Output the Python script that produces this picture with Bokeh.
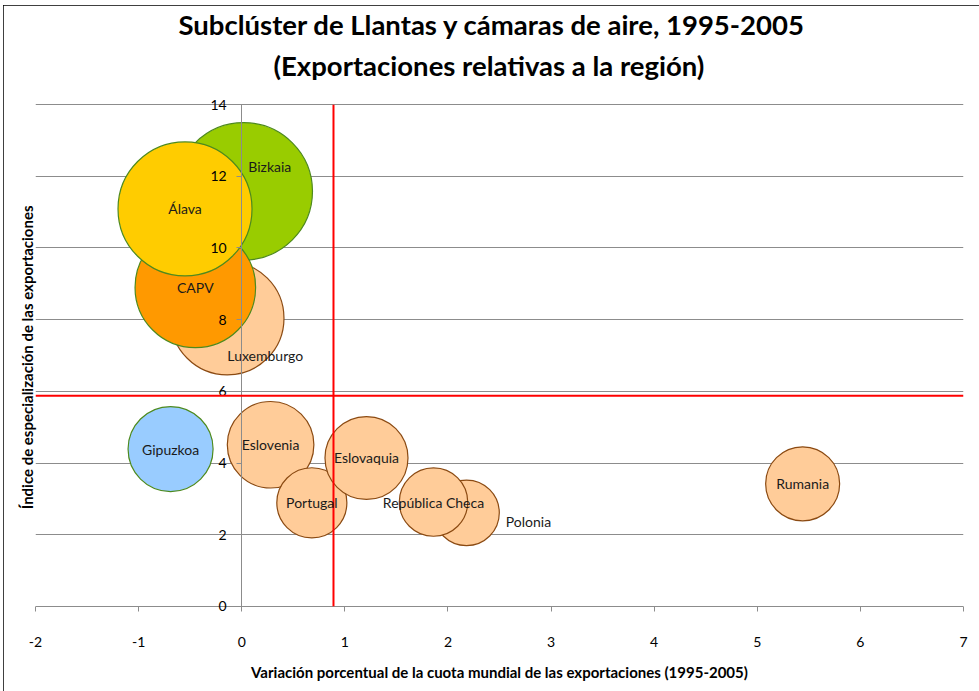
from bokeh.plotting import figure
from bokeh.models import ColumnDataSource, Span, Title, FixedTicker, PrintfTickFormatter
from bokeh.core.properties import value
from bokeh.embed import file_html
from bokeh.resources import INLINE

# ---- data ----
regiones = ["Luxemburgo", "Bizkaia", "CAPV", "Álava", "Gipuzkoa", "Eslovenia",
            "Portugal", "Eslovaquia", "Polonia", "República Checa", "Rumania"]
variacion_cuota = [-0.14, 0.02, -0.45, -0.55, -0.69, 0.28, 0.68, 1.21, 2.18, 1.86, 5.44]
indice_especializacion = [8.04, 11.58, 8.90, 11.09, 4.39, 4.51, 2.89, 4.14, 2.61, 2.91, 3.42]
volumen_burbuja = [68.1, 100.0, 77.0, 95.1, 38.3, 39.7, 26.0, 36.5, 22.8, 24.8, 29.0]
umbral_x = 0.89
umbral_y = 5.88
x_ticks = [-2, -1, 0, 1, 2, 3, 4, 5, 6, 7]
y_ticks = [0, 2, 4, 6, 8, 10, 12, 14]
titulo_1 = "Subclúster de Llantas y cámaras de aire, 1995-2005"
titulo_2 = "(Exportaciones relativas a la región)"

# ---- styles ----
FONT = "Lato"
fills = {"Bizkaia": "#99CC00", "CAPV": "#FF9900", "Álava": "#FFCC00", "Gipuzkoa": "#99CCFF"}
outlines = {"Bizkaia": "#4E8A1E", "CAPV": "#4E8A1E", "Álava": "#4E8A1E", "Gipuzkoa": "#4E8A1E"}
fill_col = [fills.get(r, "#FFCC99") for r in regiones]
line_col = [outlines.get(r, "#8B4A12") for r in regiones]
diam = [137.4 * (v / 100.0) ** 0.5 for v in volumen_burbuja]
label_dx = {"Bizkaia": 26, "Luxemburgo": 38, "Polonia": 62}
label_dy = {"Bizkaia": 25, "Luxemburgo": -37, "Polonia": -9}
ldx = [label_dx.get(r, 0) for r in regiones]
ldy = [-label_dy.get(r, 0) for r in regiones]
PAD = 0.45  # small range padding so the end tick labels have room

src = ColumnDataSource(dict(x=variacion_cuota, y=indice_especializacion, name=regiones,
                            d=diam, fc=fill_col, lc=line_col, dx=ldx, dy=ldy))

p = figure(width=976, height=686, x_range=(x_ticks[0], x_ticks[-1]),
           y_range=(y_ticks[0] - PAD, y_ticks[-1] + PAD),
           output_backend="svg", toolbar_location=None,
           min_border_left=32, min_border_right=16, min_border_top=83, min_border_bottom=69)
p.title = None
p.outline_line_color = None
p.background_fill_color = "white"
p.border_fill_color = "white"
p.styles = {"margin-left": "3px", "margin-top": "5px",
            "outline": "1px solid #000000", "outline-offset": "-1px"}

# titles
p.add_layout(Title(text=titulo_2, align="left", offset=238,
                   text_font=FONT, text_font_size="27.5px", text_font_style="bold",
                   text_color="black", standoff=13), "above")
p.add_layout(Title(text=titulo_1, align="left", offset=143,
                   text_font=FONT, text_font_size="27.5px", text_font_style="bold",
                   text_color="black", standoff=0), "above")

# grid
p.xgrid.visible = False
p.ygrid.ticker = FixedTicker(ticks=y_ticks)
p.ygrid.grid_line_color = "#8C8C8C"
p.ygrid.grid_line_width = 1

# x axis (its line is the gridline at 0; ticks hang below 0)
xa = p.xaxis[0]
xa.ticker = FixedTicker(ticks=x_ticks)
xa.formatter = PrintfTickFormatter(format="%d")
xa.axis_line_color = None
xa.major_tick_line_color = "#8C8C8C"
xa.major_tick_in = 16
xa.major_tick_out = -11
xa.minor_tick_line_color = None
xa.major_label_standoff = 14
xa.major_label_text_font = FONT
xa.major_label_text_font_size = "14px"
xa.major_label_text_color = "black"
xa.axis_label = "Variación porcentual de la cuota mundial de las exportaciones (1995-2005)"
xa.axis_label_text_font = FONT
xa.axis_label_text_font_size = "15px"
xa.axis_label_text_font_style = "bold"
xa.axis_label_text_color = "black"
xa.axis_label_standoff = 13

# y axis at x=0
ya = p.yaxis[0]
ya.fixed_location = 0
ya.bounds = (y_ticks[0], y_ticks[-1])
ya.ticker = FixedTicker(ticks=y_ticks)
ya.formatter = PrintfTickFormatter(format="%d")
ya.axis_line_color = "#8C8C8C"
ya.major_tick_line_color = "#8C8C8C"
ya.major_tick_in = 0
ya.major_tick_out = 5
ya.minor_tick_line_color = None
ya.major_label_standoff = 10
ya.major_label_text_font = FONT
ya.major_label_text_font_size = "14px"
ya.major_label_text_color = "black"

p.add_layout(Title(text="Índice de especialización  de las exportaciones", align="center",
                   text_font=FONT, text_font_size="15px", text_font_style="bold",
                   text_color="black", standoff=0, offset=-5), "left")

# bubbles
p.scatter("x", "y", size="d", source=src, fill_color="fc", line_color="lc",
          line_width=1.2, fill_alpha=1.0)

# reference lines
p.segment(x0=[umbral_x], y0=[y_ticks[0]], x1=[umbral_x], y1=[y_ticks[-1]],
          line_color="#FF0000", line_width=2)
p.add_layout(Span(location=umbral_y, dimension="width", line_color="#FF0000", line_width=2))

# bubble labels
p.text("x", "y", text="name", source=src, x_offset="dx", y_offset="dy",
       text_align="center", text_baseline="middle",
       text_font=value(FONT), text_font_size="14px", text_color="#1a1a1a")

html = file_html(p, INLINE)
open("out.html", "w").write(html)
